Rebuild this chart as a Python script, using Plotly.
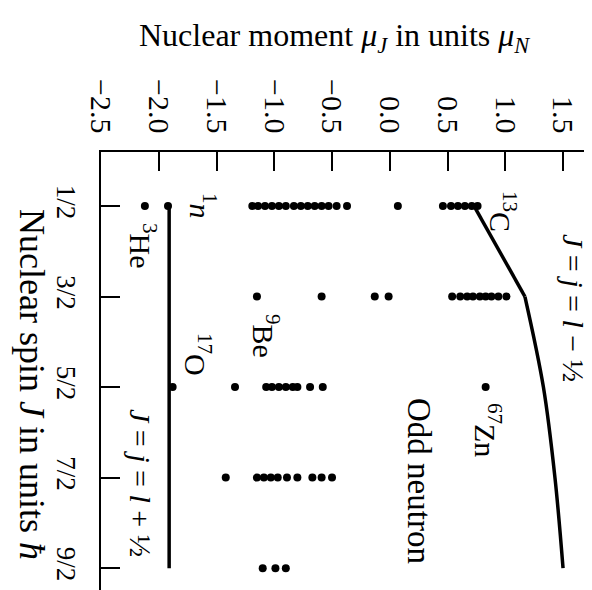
import plotly.graph_objects as go

# ---- data ----
spin_ticks = [0.5, 1.5, 2.5, 3.5, 4.5]
spin_labels = ["1/2", "3/2", "5/2", "7/2", "9/2"]
moment_ticks = [-2.5, -2.0, -1.5, -1.0, -0.5, 0.0, 0.5, 1.0, 1.5]
moment_labels = ["\u22122.5", "\u22122.0", "\u22121.5", "\u22121.0", "\u22120.5",
                 "0.0", "0.5", "1.0", "1.5"]

mu_j12 = [-2.12, -1.92, -1.19, -1.14, -1.08, -1.02, -0.96, -0.90, -0.83, -0.77,
          -0.71, -0.65, -0.59, -0.53, -0.46, -0.37, 0.07,
          0.46, 0.53, 0.59, 0.65, 0.71, 0.76]
mu_j32 = [-1.15, -0.59, -0.13, -0.01, 0.54, 0.61, 0.67, 0.72, 0.78, 0.83, 0.88, 0.94, 1.01]
mu_j52 = [-1.88, -1.34, -1.07, -1.02, -0.96, -0.90, -0.84, -0.80, -0.69, -0.58, 0.83]
mu_j72 = [-1.42, -1.15, -1.09, -1.03, -0.97, -0.89, -0.80, -0.67, -0.59, -0.50]
mu_j92 = [-1.10, -0.99, -0.90]

# Schmidt lines
schmidt_plus_spin = [0.5, 4.5]
schmidt_plus_mu = [-1.91, -1.91]
schmidt_minus_spin_a = [0.5, 1.5]
schmidt_minus_mu_a = [0.73, 1.17]
schmidt_minus_spin_b = [1.5, 2.5, 3.5, 4.5]
schmidt_minus_mu_b = [1.17, 1.33, 1.43, 1.50]

FONT = "Liberation Serif"
W, H = 592, 590
L, T = 93, 144
XR = [-2.5, 1.82]
YR = [4.83, -0.097]

fig = go.Figure()

def dots(mu, spin):
    fig.add_trace(go.Scatter(x=mu, y=[spin] * len(mu), mode="markers",
                             marker=dict(color="black", size=8),
                             showlegend=False, hoverinfo="skip"))

dots(mu_j12, 0.5)
dots(mu_j32, 1.5)
dots(mu_j52, 2.5)
dots(mu_j72, 3.5)
dots(mu_j92, 4.5)

for xs, ys, shape in [(schmidt_plus_mu, schmidt_plus_spin, "linear"),
                      (schmidt_minus_mu_a, schmidt_minus_spin_a, "linear"),
                      (schmidt_minus_mu_b, schmidt_minus_spin_b, "spline")]:
    fig.add_trace(go.Scatter(x=xs, y=ys, mode="lines",
                             line=dict(color="black", width=3.5, shape=shape),
                             showlegend=False, hoverinfo="skip"))

def px(xp, yp):
    return (xp - L) / (W - L), (H - yp) / (H - T)

def label(text, xp, yp, size=30, angle=90):
    ax, ay = px(xp, yp)
    fig.add_annotation(text=text, x=ax, y=ay, xref="paper", yref="paper",
                       showarrow=False, textangle=angle,
                       xanchor="center", yanchor="middle",
                       font=dict(family=FONT, size=size, color="black"))

label("Nuclear moment <i>\u03bc<sub>J</sub></i> in units <i>\u03bc<sub>N</sub></i>", 326, 30, size=32, angle=0)
label("Nuclear spin <i>J</i> in units <i>\u0127</i>", 24, 376, size=36)
label("<sup>3</sup>He", 135, 237)
label("<sup>1</sup><i>n</i>", 195, 198)
label("<sup>9</sup>Be", 258, 328)
label("<sup>17</sup>O", 190, 346)
label("<sup>13</sup>C", 495, 203)
label("<sup>67</sup>Zn", 480, 422)
label("Odd neutron", 411, 473, size=33)
label("<i>J</i> = <i>j</i> = <i>l</i> \u2212 \u00bd", 566, 300)
label("<i>J</i> = <i>j</i> = <i>l</i> + \u00bd", 133, 475)

fig.update_layout(
    width=W, height=H,
    margin=dict(l=L, r=0, t=T, b=0, pad=0),
    paper_bgcolor="white", plot_bgcolor="white",
    font=dict(family=FONT, color="black"),
    xaxis=dict(range=XR, side="top", showgrid=False, zeroline=False,
               showline=True, linecolor="black", linewidth=2,
               ticks="inside", ticklen=19, tickwidth=1.5, tickcolor="black",
               tickvals=moment_ticks, ticktext=moment_labels, tickangle=90,
               ticklabelstandoff=6,
               tickfont=dict(family=FONT, size=30, color="black")),
    yaxis=dict(range=YR, showgrid=False, zeroline=False,
               showline=True, linecolor="black", linewidth=2,
               ticks="inside", ticklen=19, tickwidth=1.5, tickcolor="black",
               tickvals=spin_ticks, ticktext=spin_labels, tickangle=90,
               ticklabelstandoff=10,
               tickfont=dict(family=FONT, size=27, color="black")),
)

fig.write_html("out.html")
